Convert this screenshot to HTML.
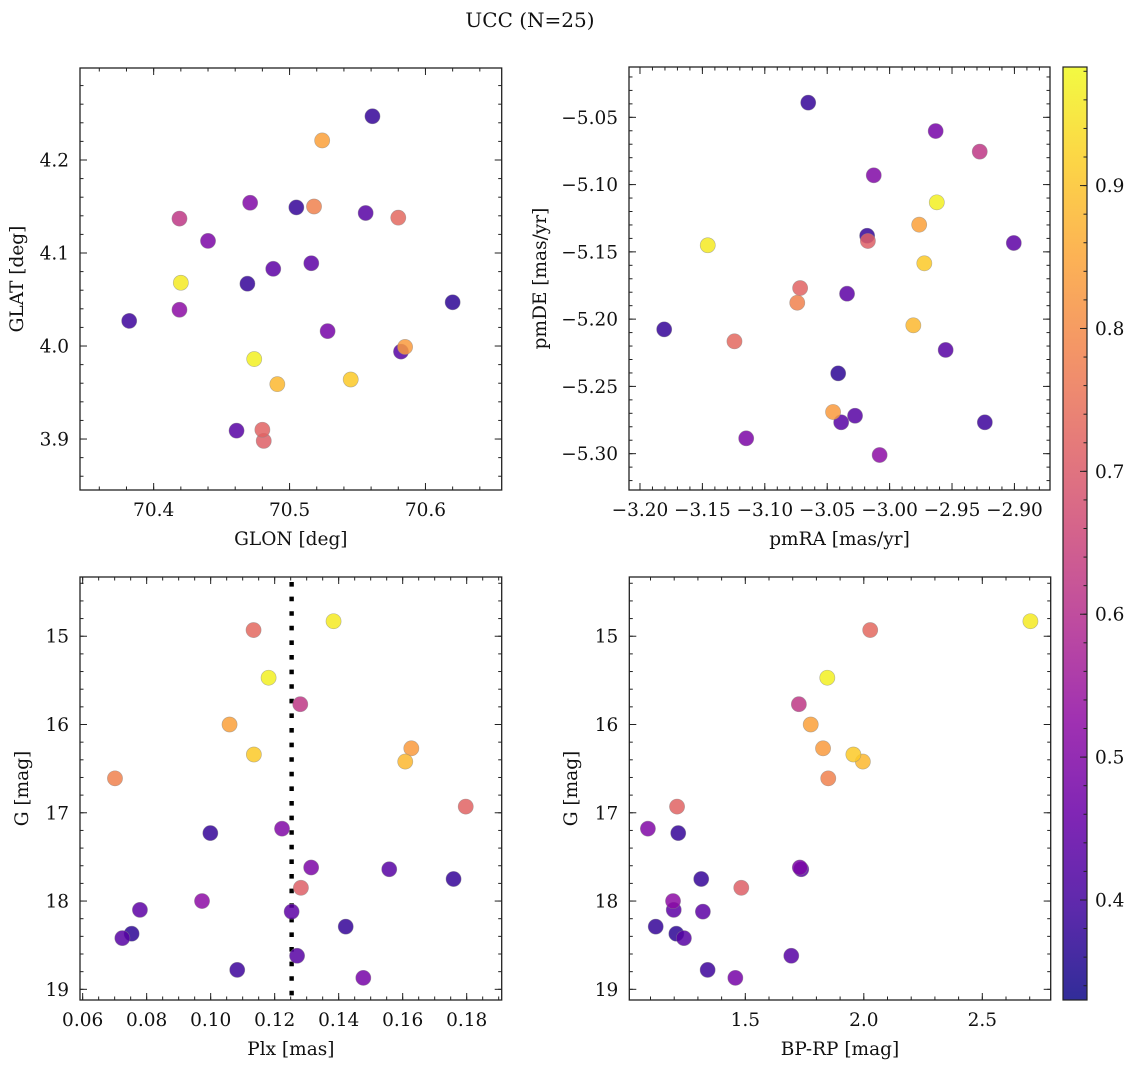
<!DOCTYPE html>
<html><head><meta charset="utf-8"><title>UCC (N=25)</title>
<style>
html,body{margin:0;padding:0;background:#fff;}
svg{display:block;font-family:"DejaVu Serif","Liberation Serif",serif;}
</style></head>
<body>
<svg id="fig" width="1136" height="1067" viewBox="0 0 1136 1067" xmlns="http://www.w3.org/2000/svg">
<rect width="1136" height="1067" fill="#fff"/>
<text x="530" y="27" font-size="20" text-anchor="middle" fill="#111">UCC (N=25)</text>
</svg>
<script>
// ---- data (one entry per star, sorted by G) ----
const glon = [70.420,70.580,70.474,70.419,70.524,70.585,70.545,70.491,70.518,70.480,70.471,70.561,70.440,70.556,70.505,70.481,70.419,70.516,70.488,70.469,70.620,70.461,70.582,70.382,70.528];
const glat = [4.068,4.138,3.986,4.137,4.221,3.999,3.964,3.959,4.150,3.910,4.154,4.247,4.113,4.143,4.149,3.898,4.039,4.089,4.083,4.067,4.047,3.909,3.994,4.027,4.016];
const pmra = [-3.1457,-3.1243,-2.9622,-2.9278,-2.9763,-3.0453,-2.9722,-2.9810,-3.0740,-3.0717,-3.0127,-3.0652,-3.1149,-2.9551,-3.0180,-3.0174,-3.0080,-2.9005,-3.0341,-3.1806,-3.0412,-3.0277,-3.0388,-2.9237,-2.9631];
const pmde = [-5.1451,-5.2165,-5.1132,-5.0755,-5.1298,-5.2690,-5.1585,-5.2046,-5.1878,-5.1769,-5.0931,-5.0391,-5.2886,-5.2229,-5.1380,-5.1419,-5.3010,-5.1434,-5.1811,-5.2076,-5.2403,-5.2718,-5.2767,-5.2767,-5.0602];
const plx  = [0.1384,0.1134,0.1181,0.1280,0.1059,0.1627,0.1135,0.1608,0.0701,0.1797,0.1223,0.0999,0.1314,0.1558,0.1759,0.1282,0.0973,0.0779,0.1253,0.1422,0.0753,0.0724,0.1270,0.1083,0.1477];
const gmag = [14.83,14.93,15.47,15.77,16.00,16.27,16.34,16.42,16.61,16.93,17.18,17.23,17.62,17.64,17.75,17.85,18.00,18.10,18.12,18.29,18.37,18.42,18.62,18.78,18.87];
const bprp = [2.703,2.027,1.846,1.726,1.776,1.828,1.956,1.996,1.850,1.212,1.089,1.217,1.730,1.736,1.314,1.483,1.195,1.198,1.321,1.122,1.209,1.241,1.694,1.341,1.458];
const prob = [0.96,0.73,0.97,0.62,0.84,0.83,0.91,0.88,0.78,0.72,0.50,0.38,0.49,0.43,0.38,0.71,0.52,0.44,0.44,0.38,0.37,0.43,0.43,0.39,0.48];
const plxRef = [0.1253];
const cbTicks = [0.4,0.5,0.6,0.7,0.8,0.9];
const cbRange = [0.33,0.983];

const NS = "http://www.w3.org/2000/svg";
const svg = document.getElementById('fig');
const FS = 18.5;
function mk(tag, attrs, parent){
  const e = document.createElementNS(NS, tag);
  for (const k in attrs) e.setAttribute(k, attrs[k]);
  (parent||svg).appendChild(e);
  return e;
}
const PL = [[13,8,135],[65,4,157],[106,0,168],[143,13,164],[177,42,144],[204,71,120],[225,100,98],[242,132,75],[252,166,54],[252,206,37],[240,249,33]];
function plasma(t){
  t = Math.max(0, Math.min(1, t));
  const s = t*10, i = Math.min(9, Math.floor(s)), f = s - i;
  const a = PL[i], b = PL[i+1];
  return 'rgb(' + [0,1,2].map(k => Math.round(a[k] + (b[k]-a[k])*f)).join(',') + ')';
}
function cmap(v){ return plasma((v - cbRange[0])/(cbRange[1]-cbRange[0])); }
function fmt(v, d){ const s = v.toFixed(d); return v < 0 ? '\u2212' + s.slice(1) : s; }
function range(a, b, step){ const out=[]; const n=Math.round((b-a)/step); for(let i=0;i<=n;i++) out.push(+(a+i*step).toFixed(6)); return out; }

function panel(cfg){
  const g = mk('g', {});
  
  
  const {x0,x1,y0,y1} = cfg;
  const sx = v => x0 + (v - cfg.xr[0])/(cfg.xr[1]-cfg.xr[0])*(x1-x0);
  const sy = cfg.invertY
    ? v => y0 + (v - cfg.yr[0])/(cfg.yr[1]-cfg.yr[0])*(y1-y0)
    : v => y1 - (v - cfg.yr[0])/(cfg.yr[1]-cfg.yr[0])*(y1-y0);
  const tk = mk('g', {stroke:'#222','stroke-width':1}, g);
  
  
  cfg.xminor.forEach(v => { const x = sx(v); if (x < x0-0.5 || x > x1+0.5) return;
    mk('line',{x1:x,x2:x,y1:y1,y2:y1-3.5},tk); mk('line',{x1:x,x2:x,y1:y0,y2:y0+3.5},tk); });
  cfg.yminor.forEach(v => { const y = sy(v); if (y < y0-0.5 || y > y1+0.5) return;
    mk('line',{x1:x0,x2:x0+3.5,y1:y,y2:y},tk); mk('line',{x1:x1,x2:x1-3.5,y1:y,y2:y},tk); });
  cfg.xmajor.forEach(v => { const x = sx(v);
    mk('line',{x1:x,x2:x,y1:y1,y2:y1-7},tk); mk('line',{x1:x,x2:x,y1:y0,y2:y0+7},tk);
    const t = mk('text',{x:x,y:y1+26,'font-size':FS,'text-anchor':'middle',fill:'#111'},g);
     
    t.textContent = fmt(v, cfg.xdec); });
  cfg.ymajor.forEach(v => { const y = sy(v);
    mk('line',{x1:x0,x2:x0+7,y1:y,y2:y},tk); mk('line',{x1:x1,x2:x1-7,y1:y,y2:y},tk);
    const t = mk('text',{x:x0-11,y:y+6.5,'font-size':FS,'text-anchor':'end',fill:'#111'},g);
     
    t.textContent = fmt(v, cfg.ydec); });
  const xt = mk('text',{x:(x0+x1)/2,y:y1+55,'font-size':FS,'text-anchor':'middle',fill:'#111'},g);
   
  xt.textContent = cfg.xlabel;
  const yt = mk('text',{x:0,y:0,'font-size':FS,'text-anchor':'middle',fill:'#111',
    transform:'translate(' + cfg.ylx + ',' + ((y0+y1)/2) + ') rotate(-90)'},g);
   
  yt.textContent = cfg.ylabel;
  if (cfg.vline){
    const ln = mk('line',{x1:sx(cfg.vline[0]),x2:sx(cfg.vline[0]),y1:y0+5,y2:y1,stroke:'#000','stroke-width':4.4,'stroke-dasharray':'4.6 10'},g);
     
  }
  const idx = prob.map((p,i)=>i).sort((a,b)=>prob[a]-prob[b]);
  const pts = mk('g',{},g);
   
  idx.forEach(i => {
    const c = mk('circle',{cx:sx(cfg.xd[i]),cy:sy(cfg.yd[i]),r:7.6,fill:cmap(prob[i]),'fill-opacity':0.85,stroke:'#888','stroke-opacity':0.6,'stroke-width':0.6},pts);
    
    
  });
  const fr = mk('rect',{x:x0,y:y0,width:x1-x0,height:y1-y0,fill:'none',stroke:'#222','stroke-width':1.3},g);
   
}

panel({name:'glon-glat-panel',x0:80,x1:501.7,y0:68,y1:490,xr:[70.3458,70.6561],yr:[3.8452,4.2989],
  xd:glon,yd:glat,xmajor:[70.4,70.5,70.6],xminor:range(70.36,70.64,0.02),ymajor:[3.9,4.0,4.1,4.2],yminor:range(3.86,4.28,0.02),
  xdec:1,ydec:1,xlabel:'GLON [deg]',ylabel:'GLAT [deg]',ylx:23});
panel({name:'pm-panel',x0:629,x1:1050,y0:67,y1:490,xr:[-3.2088,-2.8715],yr:[-5.327,-5.0126],
  xd:pmra,yd:pmde,xmajor:[-3.20,-3.15,-3.10,-3.05,-3.00,-2.95,-2.90],xminor:range(-3.20,-2.88,0.01),ymajor:[-5.30,-5.25,-5.20,-5.15,-5.10,-5.05],yminor:range(-5.32,-5.02,0.01),
  xdec:2,ydec:2,xlabel:'pmRA [mas/yr]',ylabel:'pmDE [mas/yr]',ylx:546});
panel({name:'plx-g-panel',x0:80,x1:501.7,y0:577,y1:1000,xr:[0.05917,0.19094],yr:[14.329,19.121],invertY:true,
  xd:plx,yd:gmag,xmajor:[0.06,0.08,0.10,0.12,0.14,0.16,0.18],xminor:range(0.06,0.19,0.005),ymajor:[15,16,17,18,19],yminor:range(14.4,19.0,0.2),
  xdec:2,ydec:0,xlabel:'Plx [mas]',ylabel:'G [mag]',ylx:28,vline:plxRef});
panel({name:'cmd-panel',x0:629.3,x1:1050.7,y0:577,y1:1000,xr:[1.0105,2.7886],yr:[14.329,19.121],invertY:true,
  xd:bprp,yd:gmag,xmajor:[1.5,2.0,2.5],xminor:range(1.1,2.7,0.1),ymajor:[15,16,17,18,19],yminor:range(14.4,19.0,0.2),
  xdec:1,ydec:0,xlabel:'BP-RP [mag]',ylabel:'G [mag]',ylx:577});

const cbx0 = 1063, cbx1 = 1087, cby0 = 67, cby1 = 1000;
const defs = mk('defs',{});
const grad = mk('linearGradient',{id:'cbgrad',x1:0,y1:1,x2:0,y2:0},defs);
for (let k=0;k<=20;k++){ mk('stop',{offset:(k/20),'stop-color':plasma(k/20)},grad); }
const cb = mk('g',{});
 
mk('rect',{x:cbx0,y:cby0,width:cbx1-cbx0,height:cby1-cby0,fill:'url(#cbgrad)','fill-opacity':0.85},cb);
const cy = v => cby1 - (v-cbRange[0])/(cbRange[1]-cbRange[0])*(cby1-cby0);
range(0.34,0.98,0.02).forEach(v => { mk('line',{x1:cbx1,x2:cbx1-3.5,y1:cy(v),y2:cy(v),stroke:'#222','stroke-width':1},cb); });
cbTicks.forEach(v => {
  mk('line',{x1:cbx1,x2:cbx1-7,y1:cy(v),y2:cy(v),stroke:'#222','stroke-width':1},cb);
  const t = mk('text',{x:cbx1+8,y:cy(v)+6.5,'font-size':FS,fill:'#111'},cb);
   
  t.textContent = v.toFixed(1);
});
mk('rect',{x:cbx0,y:cby0,width:cbx1-cbx0,height:cby1-cby0,fill:'none',stroke:'#222','stroke-width':1.2},cb);
</script>
</body></html>
